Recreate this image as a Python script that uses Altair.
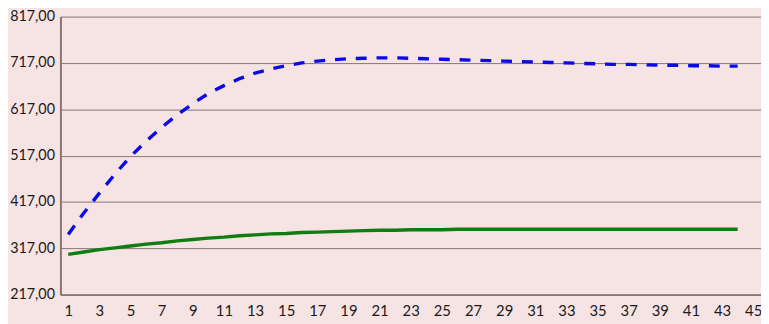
import altair as alt
import pandas as pd

categories = list(range(1, 46))
steps = list(range(1, 45))
blue_values = [347, 393, 436, 477, 515, 548, 578, 605, 629, 651, 668, 683, 695, 704,
               711, 717, 721, 724, 726, 727, 728, 728, 727, 726, 725, 724, 723, 722,
               721, 720, 719, 718, 717, 716, 715, 714, 714, 713, 712, 712, 711, 711,
               710, 710]
green_values = [304, 309, 314, 318, 322, 326, 329, 333, 336, 339, 341, 344, 346, 348,
                349, 351, 352, 353, 354, 355, 356, 356, 357, 357, 357, 358, 358, 358,
                358, 358, 358, 358, 358, 358, 358, 358, 358, 358, 358, 358, 358, 358,
                358, 358]
y_ticks = [217, 317, 417, 517, 617, 717, 817]
x_label_values = [c for c in categories if c % 2 == 1]

df_blue = pd.DataFrame({"x": steps, "y": blue_values})
df_green = pd.DataFrame({"x": steps, "y": green_values})

axis_color = "#8A7474"

x_enc = alt.X(
    "x:O",
    scale=alt.Scale(type="point", domain=categories, padding=0.5),
    axis=alt.Axis(
        title=None, values=x_label_values, ticks=False, grid=False,
        labelAngle=0, labelPadding=9, labelFont="Lato", labelFontSize=15,
        labelColor="#1a1a1a", domainColor=axis_color, domainWidth=2,
    ),
)
y_enc = alt.Y(
    "y:Q",
    scale=alt.Scale(domain=[217, 817], nice=False, zero=False),
    axis=alt.Axis(
        title=None, values=y_ticks, ticks=False, grid=True,
        gridColor=axis_color, gridWidth=1, gridOpacity=1,
        labelExpr="replace(format(datum.value, '.2f'), '.', ',')",
        labelPadding=6, labelFont="Lato", labelFontSize=14.5,
        labelColor="#1a1a1a", domainColor=axis_color, domainWidth=2,
    ),
)

green = alt.Chart(df_green).mark_line(color="#0F7D0F", strokeWidth=3.4).encode(x=x_enc, y=y_enc)
blue = alt.Chart(df_blue).mark_line(
    color="#0A0AE6", strokeWidth=3.4, strokeDash=[11, 10]
).encode(x=x_enc, y=y_enc)

chart = (
    alt.layer(green, blue)
    .properties(
        width=708, height=281,
        background="#F6E3E4",
        autosize=alt.AutoSizeParams(type="none"),
        padding={"left": 53, "top": 7, "right": 0, "bottom": 28},
    )
    .configure_view(stroke=None)
)

chart.save("out.html", embed_options={"renderer": "svg", "actions": False})
